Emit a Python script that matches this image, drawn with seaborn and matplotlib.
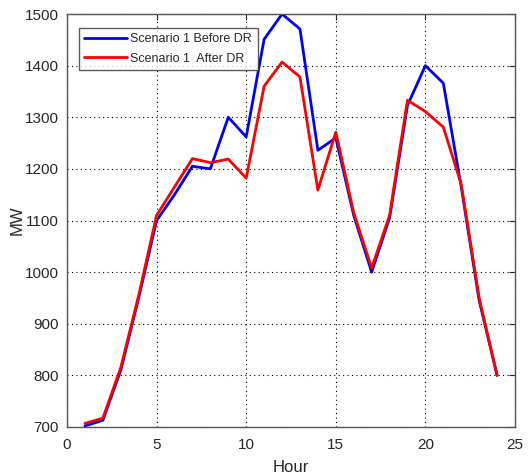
import matplotlib
matplotlib.use("Agg")
import matplotlib.pyplot as plt
import seaborn as sns
import pandas as pd

hours = list(range(1, 25))
before_dr = [702, 713, 810, 950, 1100, 1150, 1205, 1200, 1300, 1262, 1451, 1500,
             1471, 1236, 1260, 1110, 1000, 1105, 1323, 1400, 1366, 1165, 945, 800]
after_dr = [707, 717, 815, 955, 1110, 1165, 1220, 1212, 1219, 1182, 1360, 1407,
            1378, 1159, 1271, 1115, 1008, 1110, 1333, 1311, 1281, 1170, 950, 800]
labels = ["Scenario 1 Before DR", "Scenario 1  After DR"]

df = pd.DataFrame({
    "Hour": hours * 2,
    "MW": before_dr + after_dr,
    "Series": [labels[0]] * 24 + [labels[1]] * 24,
})

sns.set_style("white")
plt.rcParams['font.family'] = ['Liberation Sans', 'DejaVu Sans']

fig = plt.figure(figsize=(5.28, 4.76), dpi=100)
ax = fig.add_axes([67/528, 1 - 427/476, (515-67)/528, (427-14)/476])
sns.lineplot(data=df, x="Hour", y="MW", hue="Series",
             palette={labels[0]: "#0000ff", labels[1]: "#ff0000"},
             linewidth=2, ax=ax)

ax.set_xlim(0, 25)
ax.set_ylim(700, 1500)
ax.set_xticks([0, 5, 10, 15, 20, 25])
ax.set_yticks(list(range(700, 1501, 100)))
ax.grid(True, linestyle=(0, (1, 3)), color="black", linewidth=0.8)
ax.tick_params(direction="in", top=True, right=True, labelsize=11,
               colors="#262626", length=4, width=0.8)
ax.tick_params(axis="x", pad=8)
ax.tick_params(axis="y", pad=6)
for s in ax.spines.values():
    s.set_color("#555555")
    s.set_linewidth(1)
ax.set_xlabel("Hour", fontsize=12, color="#262626", labelpad=6)
ax.set_ylabel("MW", fontsize=12, color="#262626", labelpad=0)

leg = ax.legend(loc="upper left", bbox_to_anchor=(12/448, 1 - 14/413), fontsize=9,
                frameon=True, fancybox=False, edgecolor="#333333",
                borderpad=0.42, handlelength=3.4, handletextpad=0.3,
                labelspacing=0.6, borderaxespad=0)
leg.get_frame().set_linewidth(1)
leg.set_title(None)

fig.savefig("out.png", dpi=100)
